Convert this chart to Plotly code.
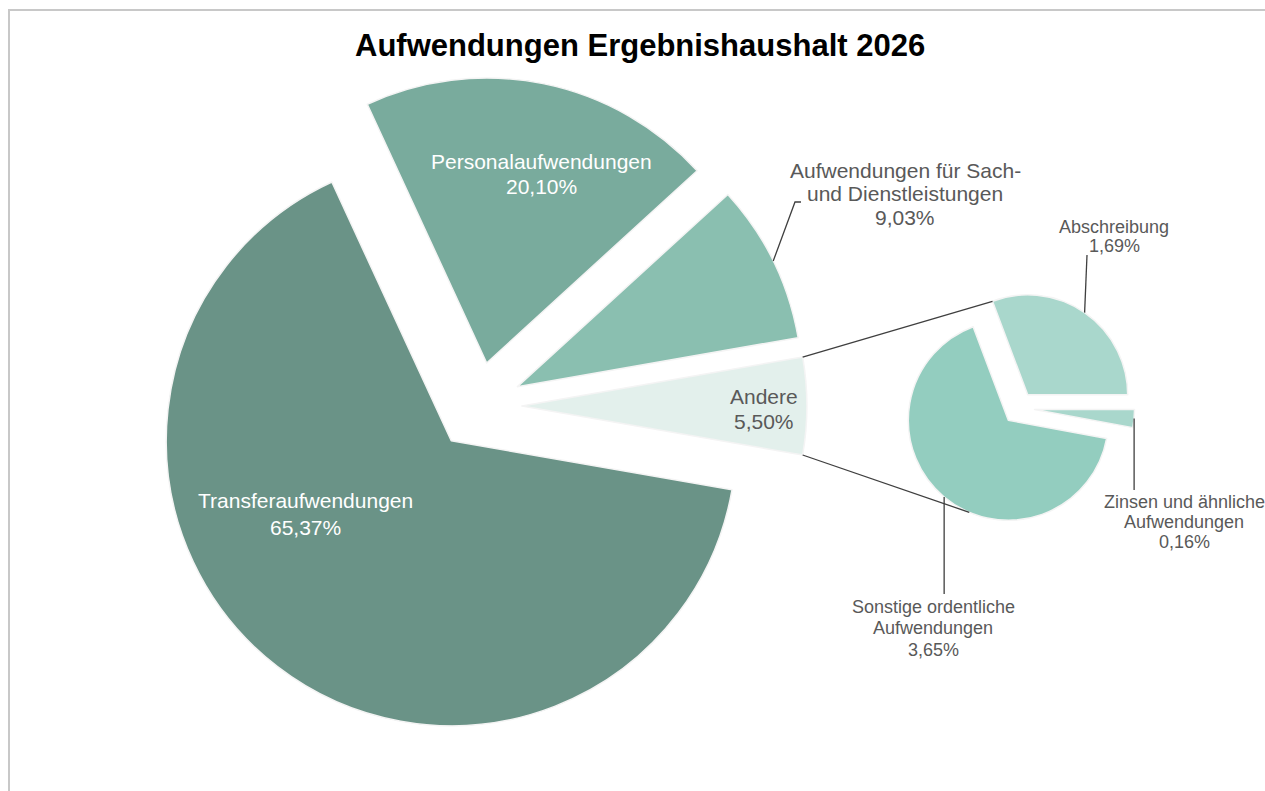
import math
import plotly.graph_objects as go

W, H = 1265, 791

# ---------------- data ----------------
main_labels = ["Transferaufwendungen", "Personalaufwendungen",
               "Aufwendungen für Sach- und Dienstleistungen", "Andere"]
main_text = [["Transferaufwendungen"], ["Personalaufwendungen"],
             ["Aufwendungen für Sach-", "und Dienstleistungen"], ["Andere"]]
main_values = [65.37, 20.10, 9.03, 5.50]
main_colors = ["#6A9387", "#79AB9D", "#8ABFB0", "#E3F0EC"]

sub_labels = ["Abschreibung", "Zinsen und ähnliche Aufwendungen",
              "Sonstige ordentliche Aufwendungen"]
sub_text = [["Abschreibung"], ["Zinsen und ähnliche", "Aufwendungen"],
            ["Sonstige ordentliche", "Aufwendungen"]]
sub_values = [1.69, 0.16, 3.65]
sub_colors = ["#A9D7CC", "#A9D7CC", "#93CDBF"]

title_text = "Aufwendungen Ergebnishaushalt 2026"

# ---------------- geometry (pixels) ----------------
MAIN_C, MAIN_R, MAIN_PULL = (478.0, 406.0), 285.0, 0.154
SUB_C, SUB_R, SUB_PULL = (1018.6, 408.0), 100.0, 0.16

FONT = "Liberation Sans, Arial, sans-serif"
GREY = "#595959"
LINE = "#3F3F3F"


def px(x, y):
    return x / W, 1 - y / H


def domain(c, r, pull):
    half = r * (1 + pull)
    return dict(x=[(c[0] - half) / W, (c[0] + half) / W],
                y=[1 - (c[1] + half) / H, 1 - (c[1] - half) / H])


def slices(values, rot):
    tot = sum(values)
    out, cum = [], 0.0
    for v in values:
        a0 = rot + cum / tot * 360
        a1 = a0 + v / tot * 360
        out.append((a0, a1, (a0 + a1) / 2))
        cum += v
    return out


def pt(c, r, ang):
    a = math.radians(ang)
    return c[0] + r * math.sin(a), c[1] - r * math.cos(a)


def apex(c, r, pull, mid):
    return pt(c, r * pull, mid)


fmt = lambda v: f"{v:.2f}".replace(".", ",") + "%"

main_rot = 90 + main_values[3] / sum(main_values) * 180
sub_rot = 90 - sub_values[0] / sum(sub_values) * 360
ms = slices(main_values, main_rot)
ss = slices(sub_values, sub_rot)

fig = go.Figure()
fig.add_trace(go.Pie(
    labels=main_labels, values=main_values, sort=False, direction="clockwise",
    rotation=main_rot, pull=[MAIN_PULL] * 4, textinfo="none", hoverinfo="label+percent",
    marker=dict(colors=main_colors, line=dict(color="#F4F4F4", width=1.5)),
    domain=domain(MAIN_C, MAIN_R, MAIN_PULL), showlegend=False))
fig.add_trace(go.Pie(
    labels=sub_labels, values=sub_values, sort=False, direction="clockwise",
    rotation=sub_rot, pull=[SUB_PULL] * 3, textinfo="none", hoverinfo="label",
    marker=dict(colors=sub_colors, line=dict(color="#F4F4F4", width=1.5)),
    domain=domain(SUB_C, SUB_R, SUB_PULL), showlegend=False))

shapes = []


def line_path(points, color=LINE, width=1.3):
    d = "M " + " L ".join(f"{px(x, y)[0]:.5f},{px(x, y)[1]:.5f}" for x, y in points)
    shapes.append(dict(type="path", path=d, xref="paper", yref="paper",
                       line=dict(color=color, width=width)))


# connector lines between Andere and the secondary pie
a_ap = apex(MAIN_C, MAIN_R, MAIN_PULL, ms[3][2])
top0 = pt(a_ap, MAIN_R, ms[3][0])
bot0 = pt(a_ap, MAIN_R, ms[3][1])
abs_ap = apex(SUB_C, SUB_R, SUB_PULL, ss[0][2])
son_ap = apex(SUB_C, SUB_R, SUB_PULL, ss[2][2])
zin_ap = apex(SUB_C, SUB_R, SUB_PULL, ss[1][2])
top1 = pt(abs_ap, SUB_R, ss[0][0])
bot1 = pt(son_ap, SUB_R, 203)
line_path([top0, top1])
line_path([bot0, bot1])

# leader lines
sach_ap = apex(MAIN_C, MAIN_R, MAIN_PULL, ms[2][2])
s0 = pt(sach_ap, MAIN_R, ms[2][2])
line_path([s0, (795, 202), (801, 202)])
a0 = pt(abs_ap, SUB_R, ss[0][2])
line_path([a0, (1087, 255)])
z0 = pt(zin_ap, SUB_R, ss[1][2])
line_path([z0, (z0[0], 490)])
o0 = pt(son_ap, SUB_R, ss[2][2])
line_path([o0, (o0[0], 594)])

# outer frame
x0, y0 = px(9, 10)
x1, y1 = px(1300, 830)
shapes.append(dict(type="rect", xref="paper", yref="paper", x0=x0, y0=y1, x1=x1, y1=y0,
                   line=dict(color="#C8C8C8", width=2)))

annotations = []


def label(lines, x, ys, color=GREY, size=20, bold=False):
    for text, y in zip(lines, ys):
        xp, yp = px(x, y)
        annotations.append(dict(text=f"<b>{text}</b>" if bold else text, x=xp, y=yp,
                                xref="paper", yref="paper", showarrow=False,
                                xanchor="center", yanchor="middle", align="center",
                                font=dict(family=FONT, size=size, color=color)))


label([title_text], 640, [45], color="#000000", size=31, bold=True)
label(main_text[0] + [fmt(main_values[0])], 305, [500, 527], color="#FFFFFF", size=21)
label(main_text[1] + [fmt(main_values[1])], 541, [161, 186], color="#FFFFFF", size=21)
label(main_text[2] + [fmt(main_values[2])], 905, [170, 193, 217], size=21)
label(main_text[3] + [fmt(main_values[3])], 764, [396, 421], size=21)
label(sub_text[0] + [fmt(sub_values[0])], 1114, [227, 246], size=18)
label(sub_text[1] + [fmt(sub_values[1])], 1184, [502, 522, 542], size=18)
label(sub_text[2] + [fmt(sub_values[2])], 933, [607, 628, 650], size=18)

fig.update_layout(width=W, height=H, margin=dict(l=0, r=0, t=0, b=0),
                  paper_bgcolor="#FFFFFF", plot_bgcolor="#FFFFFF",
                  shapes=shapes, annotations=annotations,
                  font=dict(family=FONT))
fig.write_html("out.html", config={"displayModeBar": False},
               post_script="document.body.style.margin='0';document.body.style.overflow='hidden';")
